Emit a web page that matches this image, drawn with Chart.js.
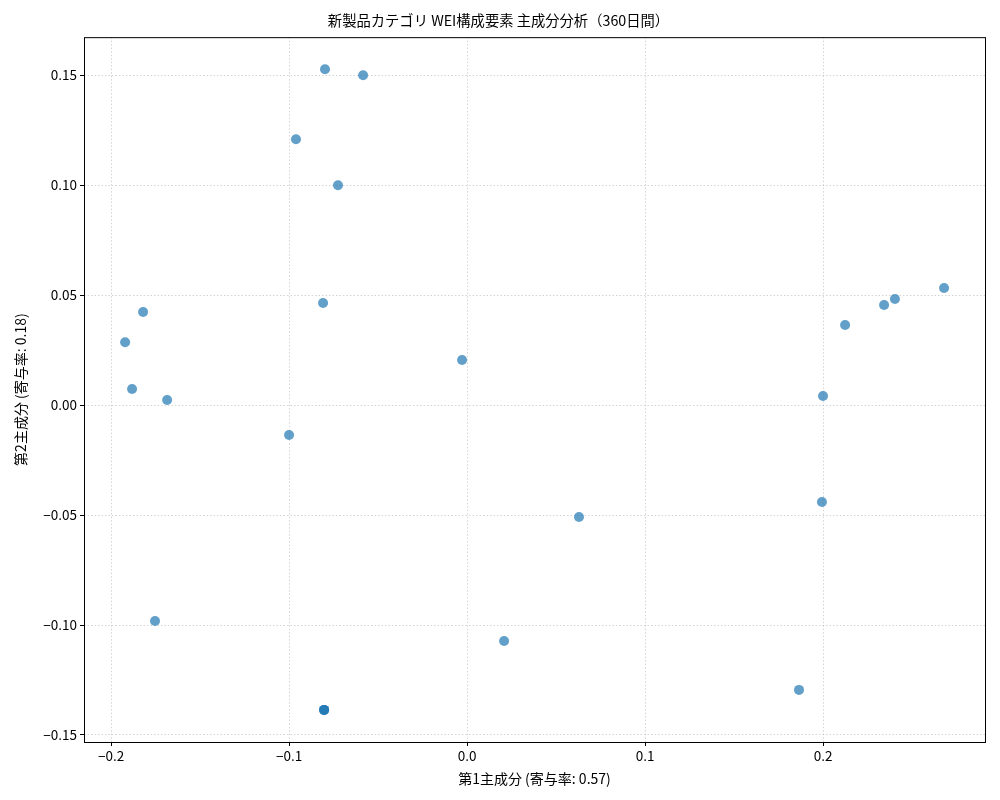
<!DOCTYPE html>
<html><head><meta charset="utf-8">
<script src="https://cdn.jsdelivr.net/npm/chart.js@4"></script>
<style>html,body{margin:0;padding:0;background:#fff}#wrap{width:1000px;height:800px}</style>
</head><body><div id="wrap"><canvas id="c" width="1000" height="800"></canvas></div>
<script>
const pc1 = [-0.0798,-0.0584,-0.0961,-0.0725,-0.0809,-0.1820,-0.1921,-0.1882,-0.1685,-0.0028,-0.1000,0.0629,-0.1753,0.0208,-0.0803,-0.0803,-0.0803,0.1865,0.1994,0.2000,0.2124,0.2343,0.2404,0.2680];
const pc2 = [0.1527,0.1500,0.1209,0.1000,0.0464,0.0423,0.0286,0.0073,0.0023,0.0205,-0.0136,-0.0509,-0.0982,-0.1073,-0.1386,-0.1386,-0.1386,-0.1295,-0.0441,0.0041,0.0364,0.0455,0.0482,0.0532];
const xTicks = [-0.2,-0.1,0.0,0.1,0.2];
const yTicks = [-0.15,-0.10,-0.05,0.00,0.05,0.10,0.15];
const titleText = '新製品カテゴリ WEI構成要素 主成分分析（360日間）';
const xLabel = '第1主成分 (寄与率: 0.57)';
const yLabel = '第2主成分 (寄与率: 0.18)';

const FONT = "'Noto Sans CJK JP','DejaVu Sans',sans-serif";
const points = pc1.map((x,i)=>({x:x,y:pc2[i]}));
const frame = {id:'frame',afterDraw(ch){const a=ch.chartArea,c=ch.ctx;c.save();c.strokeStyle='#000';c.lineWidth=1;c.strokeRect(a.left+0.5,a.top+0.5,a.right-a.left,a.bottom-a.top);c.restore();}};
const fmtX = v => (v<0?'\u2212':'')+Math.abs(v).toFixed(1);
const fmtY = v => (v<0?'\u2212':'')+Math.abs(v).toFixed(2);
new Chart(document.getElementById('c'),{
  type:'scatter',
  data:{datasets:[{data:points,backgroundColor:'rgba(31,119,180,0.7)',borderColor:'rgba(31,119,180,0.7)',borderWidth:0,pointRadius:5,pointHoverRadius:5}]},
  options:{
    responsive:false,animation:false,
    layout:{padding:{left:12,right:15,top:0,bottom:13}},
    plugins:{legend:{display:false},tooltip:{enabled:false},
      title:{display:true,text:titleText,color:'#000',font:{family:FONT,size:14.3,weight:'normal'},padding:{top:12,bottom:8}}},
    scales:{
      x:{type:'linear',min:-0.2152,max:0.291,
        afterBuildTicks(s){s.ticks=xTicks.map(v=>({value:v}));},
        afterFit(s){s.height=45;},
        ticks:{color:'#000',font:{family:FONT,size:13.5},callback:v=>fmtX(v),padding:2,maxRotation:0},
        grid:{color:'rgba(176,176,176,0.55)',tickLength:4,tickColor:'#000',tickBorderDash:[]},
        border:{display:false,dash:[1.5,2]},
        title:{display:true,text:xLabel,color:'#000',font:{family:FONT,size:14},padding:{top:2,bottom:0}}},
      y:{type:'linear',min:-0.1532,max:0.1673,
        afterBuildTicks(s){s.ticks=yTicks.map(v=>({value:v}));},
        afterFit(s){s.width=72;},
        ticks:{color:'#000',font:{family:FONT,size:13.5},callback:v=>fmtY(v),padding:3},
        grid:{color:'rgba(176,176,176,0.55)',tickLength:4,tickColor:'#000',tickBorderDash:[]},
        border:{display:false,dash:[1.5,2]},
        title:{display:true,text:yLabel,color:'#000',font:{family:FONT,size:14},padding:{top:0,bottom:4}}}
    }
  },
  plugins:[frame]
});
</script></body></html>
